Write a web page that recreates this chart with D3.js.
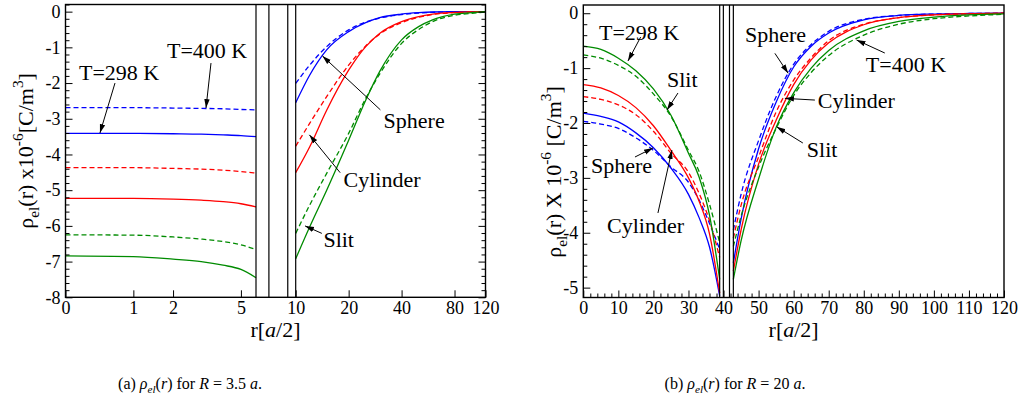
<!DOCTYPE html>
<html>
<head>
<meta charset="utf-8">
<script src="https://cdn.jsdelivr.net/npm/d3@7"></script>
</head>
<body style="margin:0;background:#fff">
<svg id="fig" width="1019" height="409"></svg>
<script>
// Panel (a): R = 3.5 a. Inside the pore r = 0..6, outside r = 10..120 (units of a/2)
const rInA = [0, 1, 2, 3, 4, 5, 6];
const rOutA = [10, 12, 15, 20, 25, 30, 40, 50, 60, 80, 100, 120];

const sphere298A_in = [-3.41, -3.41, -3.42, -3.43, -3.45, -3.47, -3.50];
const sphere400A_in = [-2.69, -2.69, -2.70, -2.71, -2.72, -2.74, -2.75];
const cyl298A_in = [-5.23, -5.23, -5.25, -5.28, -5.32, -5.38, -5.47];
const cyl400A_in = [-4.37, -4.37, -4.39, -4.41, -4.44, -4.48, -4.52];
const slit298A_in = [-6.84, -6.86, -6.93, -7.00, -7.10, -7.22, -7.45];
const slit400A_in = [-6.25, -6.26, -6.31, -6.37, -6.44, -6.53, -6.66];

const sphere298A_out = [-2.55, -1.78, -1.07, -0.56, -0.31, -0.17, -0.07, -0.03, -0.01, 0, 0, 0];
const sphere400A_out = [-2.01, -1.50, -0.98, -0.51, -0.29, -0.18, -0.08, -0.04, -0.02, -0.005, 0, 0];
const cyl298A_out = [-4.51, -3.79, -2.76, -1.64, -0.98, -0.61, -0.28, -0.14, -0.07, -0.02, -0.005, 0];
const cyl400A_out = [-3.77, -3.13, -2.38, -1.50, -0.96, -0.63, -0.31, -0.16, -0.08, -0.03, -0.01, 0];
const slit298A_out = [-6.92, -6.03, -5.00, -3.60, -2.48, -1.68, -0.79, -0.42, -0.23, -0.07, -0.03, 0];
const slit400A_out = [-6.21, -5.42, -4.53, -3.41, -2.43, -1.75, -0.89, -0.50, -0.28, -0.10, -0.05, -0.01];

// Panel (b): R = 20 a. Wall between r = 38.9 and 42.8
const rInB = [0, 5, 10, 15, 20, 25, 30, 33, 36, 38.9];
const rOutB = [42.8, 45, 50, 55, 60, 65, 70, 80, 90, 100, 110, 120];

const sphere298B_in = [-1.82, -1.88, -1.98, -2.18, -2.45, -2.82, -3.30, -3.72, -4.26, -5.15];
const sphere400B_in = [-1.97, -2.02, -2.10, -2.27, -2.50, -2.80, -3.08, -3.40, -3.83, -4.30];
const cyl298B_in = [-1.30, -1.36, -1.50, -1.72, -2.05, -2.50, -3.00, -3.42, -4.02, -5.10];
const cyl400B_in = [-1.52, -1.57, -1.67, -1.85, -2.15, -2.55, -2.90, -3.28, -3.78, -4.45];
const slit298B_in = [-0.60, -0.66, -0.82, -1.05, -1.38, -1.86, -2.55, -2.98, -3.68, -4.85];
const slit400B_in = [-0.76, -0.82, -0.95, -1.15, -1.47, -1.88, -2.50, -2.88, -3.48, -4.18];

const sphere298B_out = [-4.55, -3.75, -2.47, -1.62, -0.98, -0.60, -0.36, -0.12, -0.04, -0.015, -0.005, 0];
const sphere400B_out = [-3.95, -3.30, -2.32, -1.52, -0.93, -0.57, -0.33, -0.11, -0.04, -0.015, -0.005, 0];
const cyl298B_out = [-4.70, -3.95, -2.75, -1.95, -1.30, -0.85, -0.54, -0.21, -0.08, -0.03, -0.01, 0];
const cyl400B_out = [-4.10, -3.50, -2.62, -1.80, -1.22, -0.81, -0.50, -0.20, -0.08, -0.03, -0.01, 0];
const slit298B_out = [-4.85, -4.15, -3.02, -2.08, -1.45, -1.00, -0.68, -0.32, -0.15, -0.07, -0.03, -0.01];
const slit400B_out = [-4.25, -3.70, -2.80, -2.10, -1.50, -1.08, -0.77, -0.40, -0.20, -0.10, -0.05, -0.02];

// Tick values
const xTicksInA = [0, 1, 2, 5];
const xTicksOutA = [10, 20, 40, 80, 120];
const yTicksA = [-8, -7, -6, -5, -4, -3, -2, -1, 0];
const yTicksB = [-5, -4, -3, -2, -1, 0];
const xTicksB = [0, 10, 20, 30, 40, 50, 60, 70, 80, 90, 100, 110, 120];

// Pore walls (vertical double lines), in r
const wallsA = [6, 7.3, 9.2, 10];
const wallsB = [38.9, 39.95, 41.7, 42.8];

// Annotations: text anchor, arrow tail, arrow tip (data coords r, value)
const annotA = [
    { text: "T=400 K", at: [1.82, -1.30], tail: [3.42, -1.44], tip: [3.20, -2.70] },
    { text: "T=298 K", at: [0.148, -1.91], tail: [0.658, -2.0], tip: [0.422, -3.40] },
    { text: "Sphere", at: [31.6, -3.27], tail: [30.3, -2.75], tip: [14.19, -1.24] },
    { text: "Cylinder", at: [18.7, -4.92], tail: [17.9, -4.51], tip: [11.96, -3.45] },
    { text: "Slit", at: [14.37, -6.6], tail: [14.08, -6.21], tip: [11.3, -6.0] }
];
const annotB = [
    { text: "T=298 K", at: [4.48, -0.49], tail: [16.36, -0.434], tip: [12.74, -0.871] },
    { text: "Slit", at: [23.86, -1.345], tail: [27.0, -1.454], tip: [23.86, -1.764] },
    { text: "Sphere", at: [2.19, -2.912], tail: [14.74, -2.62], tip: [19.87, -2.456] },
    { text: "Cylinder", at: [6.76, -4.005], tail: [21.29, -3.64], tip: [25.28, -2.493] },
    { text: "Sphere", at: [46.1, -0.525], tail: [54.65, -0.731], tip: [58.44, -1.095] },
    { text: "Cylinder", at: [66.9, -1.727], tail: [66.05, -1.582], tip: [57.5, -1.551] },
    { text: "Slit", at: [63.77, -2.62], tail: [62.63, -2.365], tip: [55.13, -2.068] },
    { text: "T=400 K", at: [80.6, -1.071], tail: [86.0, -0.725], tip: [77.94, -0.488] }
];

const colors = { sphere: "#0000ff", cyl: "#ff0000", slit: "#008b00" };

const seriesA = [
    { c: colors.sphere, dash: false, inner: sphere298A_in, outer: sphere298A_out },
    { c: colors.sphere, dash: true, inner: sphere400A_in, outer: sphere400A_out },
    { c: colors.cyl, dash: false, inner: cyl298A_in, outer: cyl298A_out },
    { c: colors.cyl, dash: true, inner: cyl400A_in, outer: cyl400A_out },
    { c: colors.slit, dash: false, inner: slit298A_in, outer: slit298A_out },
    { c: colors.slit, dash: true, inner: slit400A_in, outer: slit400A_out }
];
const seriesB = [
    { c: colors.sphere, dash: false, inner: sphere298B_in, outer: sphere298B_out },
    { c: colors.sphere, dash: true, inner: sphere400B_in, outer: sphere400B_out },
    { c: colors.cyl, dash: false, inner: cyl298B_in, outer: cyl298B_out },
    { c: colors.cyl, dash: true, inner: cyl400B_in, outer: cyl400B_out },
    { c: colors.slit, dash: false, inner: slit298B_in, outer: slit298B_out },
    { c: colors.slit, dash: true, inner: slit400B_in, outer: slit400B_out }
];

const FONT = '"Liberation Serif"';

const svg = d3.select("#fig");
svg.append("rect").attr("width", 1019).attr("height", 409).attr("fill", "#fff");

svg.append("defs").append("marker")
    .attr("id", "head")
    .attr("viewBox", "0 0 10 10")
    .attr("refX", 10).attr("refY", 5)
    .attr("markerWidth", 9).attr("markerHeight", 9)
    .attr("markerUnits", "userSpaceOnUse")
    .attr("orient", "auto")
    .append("path").attr("d", "M0,2L10,5L0,8Z").attr("fill", "#000");

// Text with sub/superscripts: parts = [[text, kind]]
const richText = (sel, parts, size) => {
    sel.style("font-family", FONT).style("font-size", size + "px").attr("fill", "#000");
    let shift = 0;
    parts.forEach(([t, k]) => {
        const sp = sel.append("tspan").text(t).style("font-family", FONT);
        const target = k.endsWith("sub") ? size * 0.28 : k === "sup" ? -size * 0.45 : 0;
        sp.attr("dy", target - shift);
        shift = target;
        if (k.endsWith("sub") || k === "sup") sp.style("font-size", (size * 0.7) + "px");
        if (k.startsWith("i")) sp.style("font-style", "italic");
    });
};

const styleAxis = (g) => {
    g.select(".domain").remove();
    g.selectAll(".tick line").attr("stroke", "#000").attr("stroke-width", 1);
    g.selectAll(".tick text").style("font-family", FONT).style("font-size", "18px").attr("fill", "#000");
};

const line = (x, y) => d3.line().x(d => x(d[0])).y(d => y(d[1])).curve(d3.curveMonotoneX);

const drawSeries = (g, series, rIn, rOut, xIn, xOut, y) => {
    series.forEach(s => {
        [[rIn, s.inner, xIn], [rOut, s.outer, xOut]].forEach(([rs, vs, xs]) => {
            g.append("path")
                .datum(rs.map((r, i) => [r, vs[i]]))
                .attr("fill", "none")
                .attr("stroke", s.c)
                .attr("stroke-width", 1.3)
                .attr("stroke-dasharray", s.dash ? "5,3" : null)
                .attr("d", line(xs, y));
        });
    });
};

const drawAnnot = (g, list, x, y) => {
    list.forEach(a => {
        g.append("line")
            .attr("x1", x(a.tail[0])).attr("y1", y(a.tail[1]))
            .attr("x2", x(a.tip[0])).attr("y2", y(a.tip[1]))
            .attr("stroke", "#000").attr("stroke-width", 1)
            .attr("marker-end", "url(#head)");
        g.append("text")
            .attr("x", x(a.at[0])).attr("y", y(a.at[1]))
            .style("font-family", FONT)
            .style("font-size", "22px")
            .attr("fill", "#000")
            .text(a.text);
    });
};

const minorTicks = (lo, hi, step, majors) =>
    d3.range(Math.round(lo / step), Math.round(hi / step) + 1)
        .map(k => +(k * step).toFixed(3))
        .filter(v => v >= lo && v <= hi && !majors.includes(v));

// ---------- Panel (a) ----------
const A = { left: 65.5, right: 485.5, top: 4.5, bottom: 297.3 };
const xInA = d3.scaleSymlog().constant(1).domain([0, 6]).range([A.left, 256]);
const xOutA = d3.scaleLog().domain([10, 120]).range([295.7, A.right]);
const xGapA = d3.scaleLinear().domain([6, 10]).range([xInA(6), xOutA(10)]);
const xA = r => r <= 6 ? xInA(r) : r >= 10 ? xOutA(r) : xGapA(r);
const yA = d3.scaleLinear().domain([-8, 0.2]).range([A.bottom, A.top]);

const gA = svg.append("g");
drawSeries(gA, seriesA, rInA, rOutA, xInA, xOutA, yA);

const minorA = minorTicks(-8, 0.2, 0.2, yTicksA);
gA.append("g").attr("transform", `translate(${A.left},0)`)
    .call(d3.axisLeft(yA).tickValues(yTicksA).tickSizeInner(-7).tickSizeOuter(0).tickPadding(5).tickFormat(d => String(d)))
    .call(styleAxis);
gA.append("g").attr("transform", `translate(${A.left},0)`)
    .call(d3.axisLeft(yA).tickValues(minorA).tickSizeInner(-4).tickSizeOuter(0).tickFormat(""))
    .call(styleAxis);
gA.append("g").attr("transform", `translate(${A.right},0)`)
    .call(d3.axisRight(yA).tickValues(yTicksA).tickSizeInner(-7).tickSizeOuter(0).tickFormat(""))
    .call(styleAxis);
gA.append("g").attr("transform", `translate(${A.right},0)`)
    .call(d3.axisRight(yA).tickValues(minorA).tickSizeInner(-4).tickSizeOuter(0).tickFormat(""))
    .call(styleAxis);
gA.append("g").attr("transform", `translate(0,${A.bottom})`)
    .call(d3.axisBottom(xInA).tickValues(xTicksInA).tickSizeInner(-7).tickSizeOuter(0).tickPadding(4).tickFormat(d => String(d)))
    .call(styleAxis);
gA.append("g").attr("transform", `translate(0,${A.bottom})`)
    .call(d3.axisBottom(xOutA).tickValues(xTicksOutA).tickSizeInner(-7).tickSizeOuter(0).tickPadding(4).tickFormat(d => String(d)))
    .call(styleAxis);

gA.selectAll("line.wall").data(wallsA).join("line").attr("class", "wall")
    .attr("x1", d => xA(d)).attr("x2", d => xA(d))
    .attr("y1", A.top).attr("y2", A.bottom)
    .attr("stroke", "#000").attr("stroke-width", 1.2);

gA.append("rect")
    .attr("x", A.left).attr("y", A.top)
    .attr("width", A.right - A.left).attr("height", A.bottom - A.top)
    .attr("fill", "none").attr("stroke", "#000").attr("stroke-width", 1.4);

drawAnnot(gA, annotA, xA, yA);

richText(gA.append("text")
    .attr("transform", `translate(33,${(A.top + A.bottom) / 2}) rotate(-90)`)
    .attr("text-anchor", "middle"),
    [["ρ", "n"], ["el", "sub"], ["(r) x10", "n"], ["-6", "sup"], ["[C/m", "n"], ["3", "sup"], ["]", "n"]], 22);

richText(gA.append("text")
    .attr("x", (A.left + A.right) / 2).attr("y", 337)
    .attr("text-anchor", "middle"),
    [["r[", "n"], ["a", "i"], ["/2]", "n"]], 22);

// ---------- Panel (b) ----------
const B = { left: 583.3, right: 1004, top: 5, bottom: 297.5 };
const xB = d3.scaleLinear().domain([0, 120]).range([B.left, B.right]);
const yB = d3.scaleLinear().domain([-5.18, 0.15]).range([B.bottom, B.top]);

const gB = svg.append("g");
drawSeries(gB, seriesB, rInB, rOutB, xB, xB, yB);

gB.append("g").attr("transform", `translate(${B.left},0)`)
    .call(d3.axisLeft(yB).tickValues(yTicksB).tickSizeInner(-7).tickSizeOuter(0).tickPadding(5).tickFormat(d => String(d)))
    .call(styleAxis);
gB.append("g").attr("transform", `translate(${B.left},0)`)
    .call(d3.axisLeft(yB).tickValues(minorTicks(-5.18, 0.15, 0.2, yTicksB)).tickSizeInner(-4).tickSizeOuter(0).tickFormat(""))
    .call(styleAxis);
gB.append("g").attr("transform", `translate(0,${B.bottom})`)
    .call(d3.axisBottom(xB).tickValues(xTicksB).tickSizeInner(-7).tickSizeOuter(0).tickPadding(4).tickFormat(d => String(d)))
    .call(styleAxis);
gB.append("g").attr("transform", `translate(0,${B.bottom})`)
    .call(d3.axisBottom(xB).tickValues(minorTicks(0, 120, 2, xTicksB)).tickSizeInner(-4).tickSizeOuter(0).tickFormat(""))
    .call(styleAxis);

gB.selectAll("line.wall").data(wallsB).join("line").attr("class", "wall")
    .attr("x1", d => xB(d)).attr("x2", d => xB(d))
    .attr("y1", B.top).attr("y2", B.bottom)
    .attr("stroke", "#000").attr("stroke-width", 1.2);

gB.append("rect")
    .attr("x", B.left).attr("y", B.top)
    .attr("width", B.right - B.left).attr("height", B.bottom - B.top)
    .attr("fill", "none").attr("stroke", "#000").attr("stroke-width", 1.4);

drawAnnot(gB, annotB, xB, yB);

richText(gB.append("text")
    .attr("transform", `translate(561,172) rotate(-90)`)
    .attr("text-anchor", "middle"),
    [["ρ", "n"], ["el", "sub"], ["(r) X 10", "n"], ["-6", "sup"], [" [C/m", "n"], ["3", "sup"], ["]", "n"]], 22);

richText(gB.append("text")
    .attr("x", (B.left + B.right) / 2).attr("y", 337)
    .attr("text-anchor", "middle"),
    [["r[", "n"], ["a", "i"], ["/2]", "n"]], 22);

// ---------- Captions ----------
richText(svg.append("text").attr("x", 190).attr("y", 389).attr("text-anchor", "middle"),
    [["(a) ", "n"], ["ρ", "i"], ["el", "isub"], ["(", "n"], ["r", "i"], [")", "n"], [" for ", "n"], ["R", "i"], [" = 3.5 ", "n"], ["a", "i"], [".", "n"]], 16);
richText(svg.append("text").attr("x", 735).attr("y", 389).attr("text-anchor", "middle"),
    [["(b) ", "n"], ["ρ", "i"], ["el", "isub"], ["(", "n"], ["r", "i"], [")", "n"], [" for ", "n"], ["R", "i"], [" = 20 ", "n"], ["a", "i"], [".", "n"]], 16);
</script>
</body>
</html>
